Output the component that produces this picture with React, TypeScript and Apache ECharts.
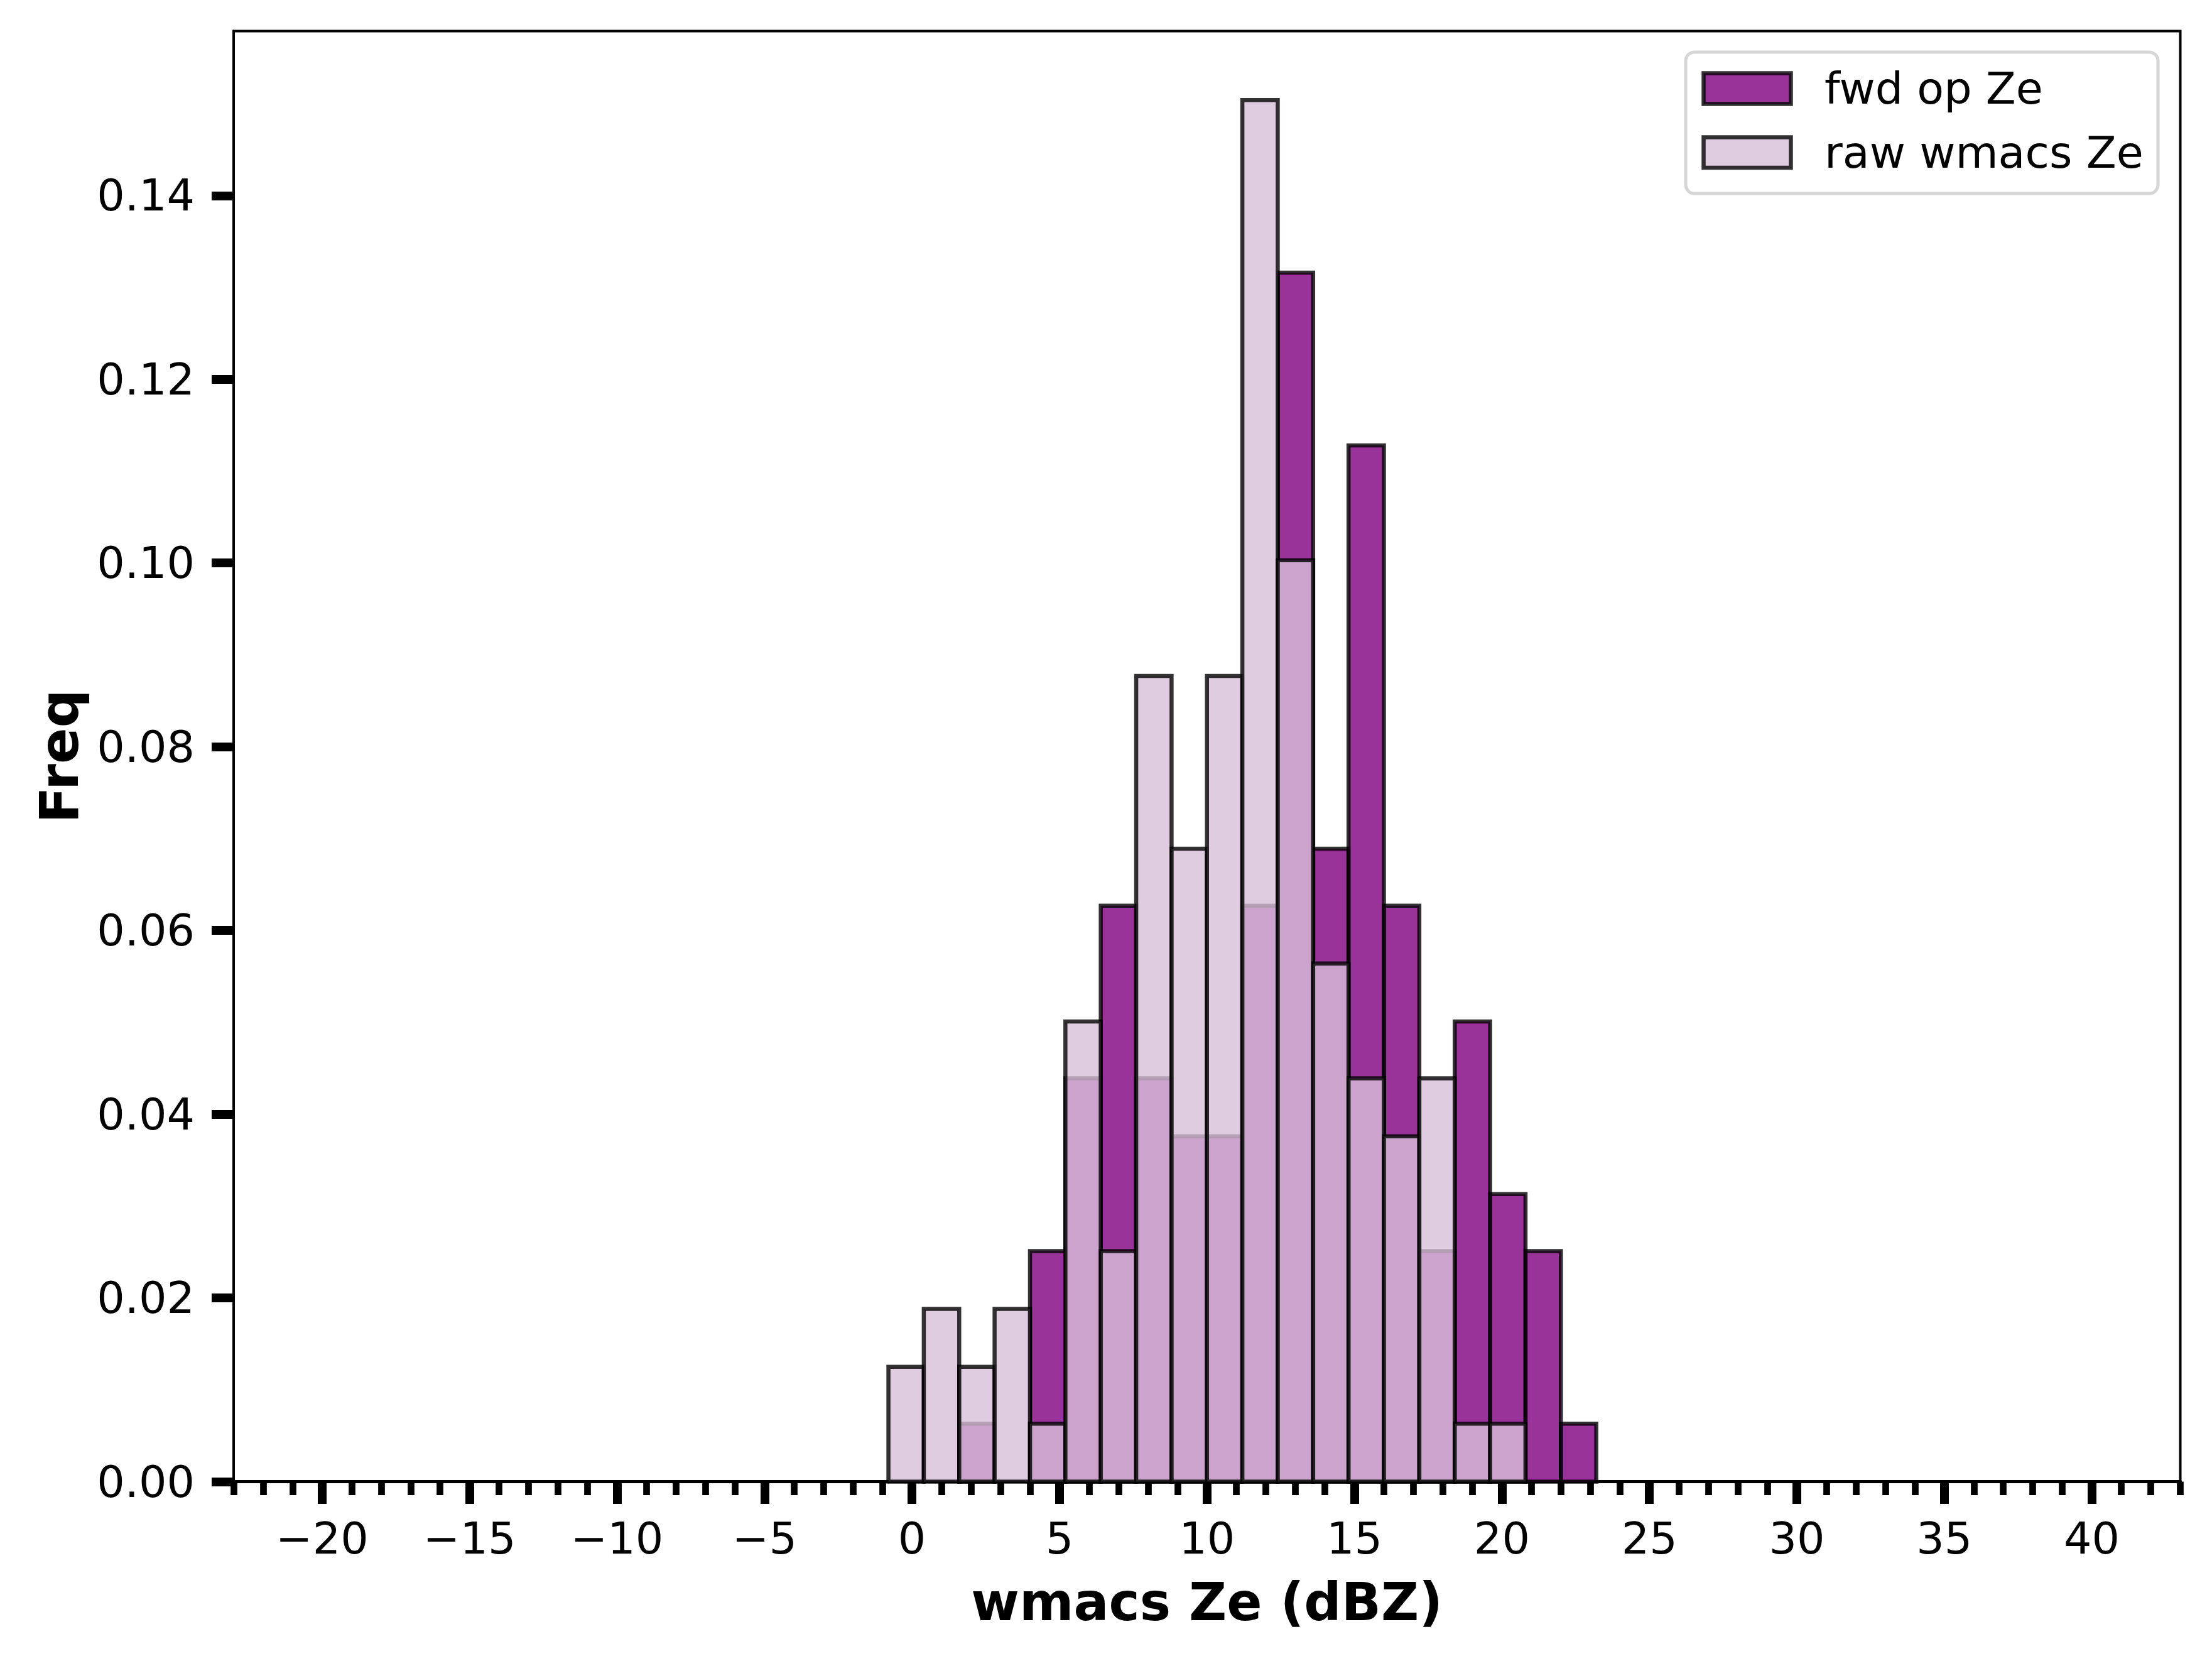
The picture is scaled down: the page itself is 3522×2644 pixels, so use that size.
import React, { useEffect, useRef } from 'react';
import * as echarts from 'echarts';

const BIN_EDGES = [-0.8, 0.4, 1.6, 2.8, 4.0, 5.2, 6.4, 7.6, 8.8, 10.0, 11.2, 12.4, 13.6, 14.8, 16.0, 17.2, 18.4, 19.6, 20.8, 22.0, 23.2];
const FWD_OP_ZE = [0, 0, 0.0063, 0, 0.0251, 0.0439, 0.0627, 0.0439, 0.0376, 0.0376, 0.0627, 0.1316, 0.0689, 0.1128, 0.0627, 0.0251, 0.0501, 0.0313, 0.0251, 0.0063];
const RAW_WMACS_ZE = [0.0125, 0.0188, 0.0125, 0.0188, 0.0063, 0.0501, 0.0251, 0.0877, 0.0689, 0.0877, 0.1504, 0.1003, 0.0564, 0.0439, 0.0376, 0.0439, 0.0063, 0.0063, 0, 0];
const X_TICKS = [-20, -15, -10, -5, 0, 5, 10, 15, 20, 25, 30, 35, 40];
const Y_TICKS = [0, 0.02, 0.04, 0.06, 0.08, 0.1, 0.12, 0.14];
const SERIES_NAMES = ['fwd op Ze', 'raw wmacs Ze'];
const X_NAME = 'wmacs Ze (dBZ)';
const Y_NAME = 'Freq';

const FWD_FILL = 'rgba(128,0,128,0.8)';
const RAW_FILL = 'rgba(216,191,216,0.8)';
const EDGE = 'rgba(0,0,0,0.8)';
const FONT = '"DejaVu Sans", Verdana, sans-serif';

const W = 3522;
const H = 2644;
const GRID = { left: 372, top: 49.5, right: W - 3471.5, bottom: H - 2358.5 };

function binData(values: number[]) {
  return values.map((v, i) => [BIN_EDGES[i], BIN_EDGES[i + 1], v]);
}

function histSeries(name: string, values: number[], fill: string, z: number) {
  return {
    type: 'custom',
    name,
    xAxisIndex: 0,
    yAxisIndex: 0,
    z,
    encode: { x: [0, 1], y: 2 },
    itemStyle: { color: fill, borderColor: EDGE, borderWidth: 6.5 },
    data: binData(values),
    renderItem: (_params: any, api: any) => {
      const x0 = api.value(0);
      const x1 = api.value(1);
      const v = api.value(2);
      if (!v) return null;
      const pTop = api.coord([x0, v]);
      const pBot = api.coord([x1, 0]);
      return {
        type: 'rect',
        shape: { x: pTop[0], y: pTop[1], width: pBot[0] - pTop[0], height: pBot[1] - pTop[1] },
        style: { fill, stroke: EDGE, lineWidth: 6.5 },
      };
    },
  };
}

export default function App() {
  const ref = useRef<HTMLDivElement>(null);
  useEffect(() => {
    document.body.style.margin = '0';
    const chart = echarts.init(ref.current!, null, { renderer: 'svg', width: W, height: H });
    const fmtX = (v: number) => (v < 0 ? '\u2212' + Math.abs(v) : String(v));
    chart.setOption({
      animation: false,
      backgroundColor: '#ffffff',
      grid: { ...GRID, show: true, borderColor: '#000', borderWidth: 4, backgroundColor: 'transparent' },
      xAxis: [
        {
          type: 'value',
          min: -23,
          max: 43,
          position: 'bottom',
          name: X_NAME,
          nameLocation: 'middle',
          nameGap: 150,
          nameTextStyle: { fontFamily: FONT, fontSize: 83, fontWeight: 'bold', color: '#000' },
          axisLine: { show: true, onZero: false, lineStyle: { color: '#000', width: 5 } },
          axisTick: { show: true, length: 35.5, lineStyle: { color: '#000', width: 14 }, customValues: X_TICKS },
          axisLabel: { show: true, margin: 55, fontFamily: FONT, fontSize: 70, color: '#000', customValues: X_TICKS, formatter: fmtX },
          splitLine: { show: false },
        },
        {
          type: 'value',
          min: -23,
          max: 43,
          interval: 1,
          position: 'bottom',
          axisLine: { show: false, onZero: false },
          axisTick: { show: true, length: 21.5, lineStyle: { color: '#000', width: 10.7 } },
          axisLabel: { show: false },
          splitLine: { show: false },
        },
      ],
      yAxis: {
        type: 'value',
        min: 0,
        max: 0.1579,
        position: 'left',
        name: Y_NAME,
        nameLocation: 'middle',
        nameRotate: 90,
        nameGap: 235,
        nameTextStyle: { fontFamily: FONT, fontSize: 85, fontWeight: 'bold', color: '#000' },
        axisLine: { show: true, onZero: false, lineStyle: { color: '#000', width: 4 } },
        axisTick: { show: true, length: 35, lineStyle: { color: '#000', width: 14 }, customValues: Y_TICKS },
        axisLabel: {
          show: true,
          margin: 62,
          fontFamily: FONT,
          fontSize: 70,
          color: '#000',
          customValues: Y_TICKS,
          formatter: (v: number) => v.toFixed(2),
        },
        splitLine: { show: false },
      },
      series: [
        histSeries(SERIES_NAMES[0], FWD_OP_ZE, FWD_FILL, 2),
        histSeries(SERIES_NAMES[1], RAW_WMACS_ZE, RAW_FILL, 3),
      ],
      graphic: [
        {
          type: 'rect',
          z: 100,
          shape: { x: 2684, y: 83, width: 752, height: 225, r: 14 },
          style: { fill: 'rgba(255,255,255,0.8)', stroke: '#d6d6d6', lineWidth: 5 },
        },
        {
          type: 'rect',
          z: 101,
          shape: { x: 2712.5, y: 116.5, width: 139, height: 49 },
          style: { fill: FWD_FILL, stroke: EDGE, lineWidth: 6.5 },
        },
        {
          type: 'rect',
          z: 101,
          shape: { x: 2712.5, y: 218.5, width: 139, height: 48.5 },
          style: { fill: RAW_FILL, stroke: EDGE, lineWidth: 6.5 },
        },
        {
          type: 'text',
          z: 101,
          x: 2905,
          y: 141,
          style: { text: SERIES_NAMES[0], fontFamily: FONT, fontSize: 70, fill: '#000', textVerticalAlign: 'middle', verticalAlign: 'middle', align: 'left' },
        },
        {
          type: 'text',
          z: 101,
          x: 2905,
          y: 243,
          style: { text: SERIES_NAMES[1], fontFamily: FONT, fontSize: 70, fill: '#000', textVerticalAlign: 'middle', verticalAlign: 'middle', align: 'left' },
        },
      ],
    });
    return () => chart.dispose();
  }, []);
  return <div ref={ref} style={{ position: 'absolute', left: 0, top: 0, width: W, height: H }} />;
}
